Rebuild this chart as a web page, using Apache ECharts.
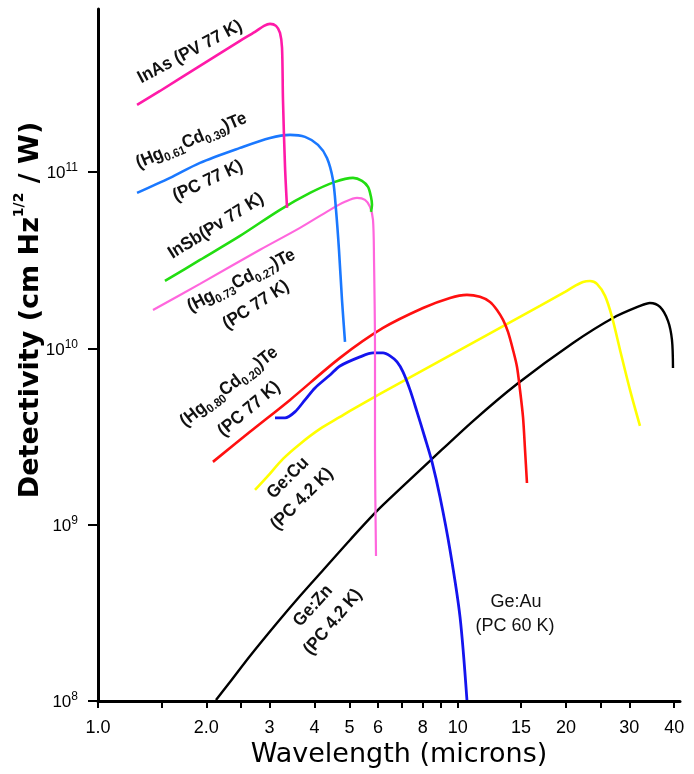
<!DOCTYPE html>
<html><head><meta charset="utf-8">
<script src="https://cdn.jsdelivr.net/npm/echarts@6/dist/echarts.min.js"></script>
<style>html,body{margin:0;padding:0;background:#fff}#c{width:694px;height:774px}</style>
</head><body><div id="c"></div>
<script>
// ---- data (wavelength in microns, detectivity in cm Hz^1/2 / W) ----
const xTickValues = [1, 1.5, 2, 2.5, 3, 4, 5, 6, 7, 8, 9, 10, 15, 20, 25, 30, 40];
const xLabelValues = [1, 2, 3, 4, 5, 6, 8, 10, 15, 20, 30, 40];
const yTickValues = [1e8, 1e9, 1e10, 1e11];

const inAsWl = [1.284, 1.487, 1.921, 2.482, 2.732, 2.894, 3.008, 3.125, 3.206, 3.248, 3.268, 3.311, 3.354];
const inAsD  = [2.40e11, 2.88e11, 4.00e11, 5.54e11, 6.23e11, 6.74e11, 6.92e11, 6.74e11, 6.15e11, 5.06e11, 2.56e11, 1.069e11, 6.26e10];

const hg61Wl = [1.284, 1.586, 1.921, 2.482, 3.008, 3.419, 3.763, 4.089, 4.331, 4.501, 4.589, 4.677, 4.768, 4.861];
const hg61D  = [7.61e10, 9.26e10, 1.127e11, 1.37e11, 1.56e11, 1.624e11, 1.582e11, 1.425e11, 1.202e11, 9.02e10, 6.10e10, 3.62e10, 1.88e10, 1.087e10];

const inSbWl = [1.535, 1.921, 2.482, 3.206, 3.885, 4.559, 5.116, 5.419, 5.632, 5.741, 5.777, 5.741];
const inSbD  = [2.41e10, 3.17e10, 4.34e10, 6.10e10, 7.61e10, 8.79e10, 9.26e10, 8.91e10, 8.23e10, 7.22e10, 6.51e10, 5.94e10];

const hg73Wl = [1.422, 1.921, 2.821, 3.644, 4.416, 4.861, 5.249, 5.525, 5.705, 5.815, 5.853, 5.890, 5.890, 5.928];
const hg73D  = [1.651e10, 2.32e10, 3.62e10, 4.82e10, 6.10e10, 6.77e10, 7.13e10, 6.95e10, 6.34e10, 5.35e10, 3.17e10, 9.79e9, 2.65e9, 6.64e8];

const hg80Wl = [2.087, 2.646, 3.419, 4.707, 6.200, 8.009, 9.520, 10.61, 11.53, 12.30, 12.86, 13.37, 13.80, 14.25, 14.62, 14.90, 15.19, 15.39, 15.58];
const hg80D  = [2.27e9, 3.36e9, 5.10e9, 8.83e9, 1.305e10, 1.694e10, 1.932e10, 2.01e10, 1.958e10, 1.833e10, 1.651e10, 1.449e10, 1.239e10, 9.79e9, 7.84e9, 5.81e9, 4.08e9, 2.65e9, 1.724e9];

const geAuWl = [3.105, 3.311, 3.528, 3.763, 4.012, 4.416, 4.707, 5.350, 5.815, 6.200, 6.484, 6.782, 7.046, 7.370, 7.707, 8.112, 8.483, 8.930, 9.520, 10.15, 10.61];
const geAuD  = [4.03e9, 4.03e9, 4.36e9, 5.10e9, 5.96e9, 7.06e9, 7.94e9, 8.94e9, 9.42e9, 9.42e9, 9.06e9, 8.37e9, 7.35e9, 5.81e9, 4.36e9, 3.10e9, 2.27e9, 1.436e9, 7.19e8, 3.00e8, 1.013e8];

const geCuWl = [2.732, 2.951, 3.268, 3.644, 4.142, 4.707, 5.019, 6.081, 7.857, 10.15, 13.11, 16.93, 19.88, 21.19, 22.31, 23.32, 24.39, 25.68, 26.85, 28.27, 30.13, 32.12];
const geCuD  = [1.573e9, 1.865e9, 2.36e9, 2.87e9, 3.49e9, 4.08e9, 4.42e9, 5.51e9, 7.35e9, 9.79e9, 1.305e10, 1.740e10, 2.09e10, 2.26e10, 2.38e10, 2.41e10, 2.32e10, 1.983e10, 1.507e10, 9.79e9, 5.81e9, 3.63e9];

const geZnWl = [2.128, 2.328, 2.646, 3.145, 3.644, 4.276, 5.019, 5.965, 6.913, 8.375, 11.03, 14.62, 20.92, 27.02, 32.12, 34.24, 36.51, 38.43, 39.42, 39.68];
const geZnD  = [1.013e8, 1.281e8, 1.800e8, 2.77e8, 3.94e8, 5.68e8, 8.19e8, 1.196e9, 1.594e9, 2.30e9, 3.87e9, 6.28e9, 1.073e10, 1.487e10, 1.740e10, 1.809e10, 1.717e10, 1.430e10, 1.116e10, 7.74e9];

// ---- build ----
function pairs(wl, d) { return wl.map((w, i) => [w, d[i]]); }
function line(name, wl, d, color, width) {
  return { name: name, type: 'line', data: pairs(wl, d), showSymbol: false, smooth: 0.3,
    lineStyle: { color: color, width: width || 2.6 }, itemStyle: { color: color }, z: 3 };
}

const LF = 'Liberation Sans';
const subRich = {
  n: { fontSize: 18, fontFamily: LF, fontWeight: 'bold', fill: '#111', lineHeight: 21, verticalAlign: 'top' },
  s: { fontSize: 12, fontFamily: LF, fontWeight: 'bold', fill: '#111', lineHeight: 12, verticalAlign: 'bottom' }
};
function note(text, x, y, deg, rich, plain) {
  const el = { type: 'text', x: x, y: y, rotation: deg * Math.PI / 180, scaleX: plain ? 1 : 0.94, z: 10,
    style: { text: text, fontSize: 18, fontFamily: LF, fontWeight: plain ? 'normal' : 'bold', fill: '#111',
      align: 'center', verticalAlign: 'middle' } };
  if (rich) el.style.rich = subRich;
  return el;
}

const chart = echarts.init(document.getElementById('c'), null, { renderer: 'canvas' });
chart.setOption({
  backgroundColor: '#fff',
  animation: false,
  grid: { left: 98, right: 14, top: 9, bottom: 73, containLabel: false },
  xAxis: {
    type: 'log', logBase: 10, min: 1, max: 41.5,
    axisLine: { onZero: false, lineStyle: { color: '#000', width: 3 } },
    axisTick: { customValues: xTickValues, length: 7, lineStyle: { color: '#000', width: 2 } },
    minorTick: { show: false },
    splitLine: { show: false },
    axisLabel: { customValues: xLabelValues, margin: 18, color: '#000', fontSize: 18, fontFamily: LF,
      formatter: v => (v === 1 ? '1.0' : v === 2 ? '2.0' : String(v)) },
    name: 'Wavelength (microns)', nameLocation: 'middle', nameGap: 38,
    nameTextStyle: { fontFamily: 'DejaVu Sans', fontSize: 27, color: '#000', padding: [0, 0, 0, 20] }
  },
  yAxis: {
    type: 'log', logBase: 10, min: 1e8, max: 8.4e11,
    axisLine: { onZero: false, lineStyle: { color: '#000', width: 3 } },
    axisTick: { customValues: yTickValues, length: 10, lineStyle: { color: '#000', width: 2 } },
    minorTick: { show: false },
    splitLine: { show: false },
    axisLabel: { customValues: yTickValues, margin: 20,
      formatter: v => '{b|10}{s|' + Math.round(Math.log10(v)) + '}',
      rich: {
        b: { fontSize: 17, fontFamily: LF, color: '#000', lineHeight: 20, verticalAlign: 'bottom' },
        s: { fontSize: 12, fontFamily: LF, color: '#000', lineHeight: 12, verticalAlign: 'top' }
      } }
  },
  graphic: [
    { type: 'text', x: 28, y: 310, rotation: Math.PI / 2, z: 10,
      style: { text: '{t|Detectivity (cm Hz}{u|1/2}{t| / W)}', align: 'center', verticalAlign: 'middle',
        rich: {
          t: { fontFamily: 'DejaVu Sans', fontWeight: 'bold', fontSize: 27, fill: '#000', lineHeight: 32, verticalAlign: 'bottom' },
          u: { fontFamily: 'DejaVu Sans', fontWeight: 'bold', fontSize: 14, fill: '#000', lineHeight: 16, verticalAlign: 'top' }
        } } },
    note('InAs (PV 77 K)', 190, 52, 28),
    note('{n|(Hg}{s|0.61}{n|Cd}{s|0.39}{n|)Te}', 192, 142, 23, true),
    note('(PC 77 K)', 208, 181, 25),
    note('InSb(Pv 77 K)', 216, 226, 32),
    note('{n|(Hg}{s|0.73}{n|Cd}{s|0.27}{n|)Te}', 242, 282, 27, true),
    note('(PC 77 K)', 256, 305, 33),
    note('{n|(Hg}{s|0.80}{n|Cd}{s|0.20}{n|)Te}', 230, 388, 38, true),
    note('(PC 77 K)', 249, 409, 40),
    note('Ge:Cu', 288, 478, 45),
    note('(PC 4.2 K)', 302, 499, 45),
    note('Ge:Zn', 313, 606, 48),
    note('(PC 4.2 K)', 333, 622, 50),
    note('Ge:Au', 516, 602, 0, false, true),
    note('(PC 60 K)', 515, 626, 0, false, true)
  ],
  series: [
    line('Ge:Zn (PC 4.2 K)', geZnWl, geZnD, '#000000', 2.4),
    line('Ge:Cu (PC 4.2 K)', geCuWl, geCuD, '#ffff00', 2.6),
    line('(Hg0.80Cd0.20)Te (PC 77 K)', hg80Wl, hg80D, '#ff1010', 2.6),
    line('Ge:Au (PC 60 K)', geAuWl, geAuD, '#1414ee', 2.8),
    line('(Hg0.73Cd0.27)Te (PC 77 K)', hg73Wl, hg73D, '#ff66dd', 2.2),
    line('InSb (PV 77 K)', inSbWl, inSbD, '#22dd11', 2.6),
    line('(Hg0.61Cd0.39)Te (PC 77 K)', hg61Wl, hg61D, '#1a78ff', 2.6),
    line('InAs (PV 77 K)', inAsWl, inAsD, '#ff1aa8', 2.6)
  ]
});
</script></body></html>
